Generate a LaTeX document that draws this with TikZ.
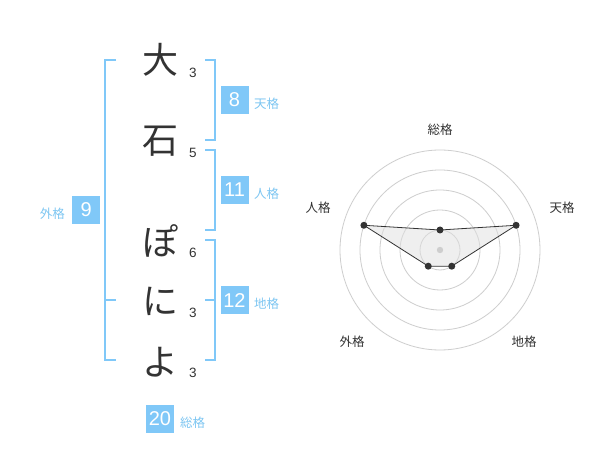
\documentclass[tikz,border=0pt]{standalone}
\usepackage{fontspec}
\setmainfont{Liberation Sans}
\newfontfamily\jp{Noto Sans CJK JP}
\definecolor{kaku}{RGB}{128,200,248}
\definecolor{kakutext}{RGB}{125,198,242}
\definecolor{ink}{RGB}{51,51,51}
\definecolor{ring}{RGB}{206,206,206}
\begin{document}
\begin{tikzpicture}[x=1pt,y=-1pt,
    moji/.style={font=\jp\fontsize{36}{36}\selectfont,text=ink,inner sep=0pt},
    kakusu/.style={font=\fontsize{13.5}{13.5}\selectfont,text=ink,inner sep=0pt},
    kakubox/.style={fill=kaku,text=white,minimum size=28pt,inner sep=0pt,font=\fontsize{20}{20}\selectfont},
    kakuname/.style={font=\jp\fontsize{12.5}{12.5}\selectfont,text=kakutext,inner sep=0pt},
    radarname/.style={font=\jp\fontsize{12.5}{12.5}\selectfont,text=ink,inner sep=0pt},
    bracket/.style={kaku,line width=2pt},
    dot/.style={circle,fill=ink,inner sep=0pt,minimum size=7pt}]
\fill[white] (0,0) rectangle (600,470);
\node[moji] (c1) at (160,60) {大};
\node[moji] (c2) at (160,141) {石};
\node[moji] (c3) at (160,241) {ぽ};
\node[moji] (c4) at (160,301) {に};
\node[moji] (c5) at (160,362) {よ};
\node[kakusu] (n1) at (193,73) {3};
\node[kakusu] (n2) at (193,153) {5};
\node[kakusu] (n3) at (193,253) {6};
\node[kakusu] (n4) at (193,313) {3};
\node[kakusu] (n5) at (193,373) {3};
\draw[bracket] (205,60) -- (215,60) -- (215,140) -- (205,140);
\draw[bracket] (205,150) -- (215,150) -- (215,230) -- (205,230);
\draw[bracket] (205,240) -- (215,240) -- (215,360) -- (205,360);
\draw[bracket] (205,300) -- (215,300);
\draw[bracket] (116,60) -- (105,60) -- (105,360) -- (116,360);
\draw[bracket] (105,300) -- (116,300);
\node[kakubox] (ten) at (234.5,100) {8};
\node[kakuname,anchor=west] at (254,104) {天格};
\node[kakubox] (jin) at (234.5,190) {11};
\node[kakuname,anchor=west] at (254,194) {人格};
\node[kakubox] (chi) at (234.5,300.5) {12};
\node[kakuname,anchor=west] at (254,304) {地格};
\node[kakubox] (gai) at (86.3,210) {9};
\node[kakuname,anchor=east] at (65,214) {外格};
\node[kakubox] (sou) at (160,419) {20};
\node[kakuname,anchor=west] at (180,423) {総格};
\begin{scope}[shift={(440,250)},yscale=-1]
\foreach \r in {20,40,60,80,100}
    \draw[ring,line width=0.8pt] (0,0) circle[radius=\r pt];
\coordinate (p-sou) at (90:20);
\coordinate (p-ten) at (18:80);
\coordinate (p-chi) at (-54:20);
\coordinate (p-gai) at (-126:20);
\coordinate (p-jin) at (162:80);
\draw[ink,line width=0.8pt,fill=black!12,fill opacity=0.5] (p-sou) -- (p-ten) -- (p-chi) -- (p-gai) -- (p-jin) -- cycle;
\fill[ring] (0,0) circle[radius=3.2pt];
\node[dot] (d-sou) at (p-sou) {};
\node[dot] (d-ten) at (p-ten) {};
\node[dot] (d-chi) at (p-chi) {};
\node[dot] (d-gai) at (p-gai) {};
\node[dot] (d-jin) at (p-jin) {};
\node[radarname] (l-sou) at (0,120) {総格};
\node[radarname] (l-ten) at (122,42) {天格};
\node[radarname] (l-jin) at (-122,42) {人格};
\node[radarname] (l-gai) at (-88,-92) {外格};
\node[radarname] (l-chi) at (84,-92) {地格};
\end{scope}
\end{tikzpicture}
\end{document}
